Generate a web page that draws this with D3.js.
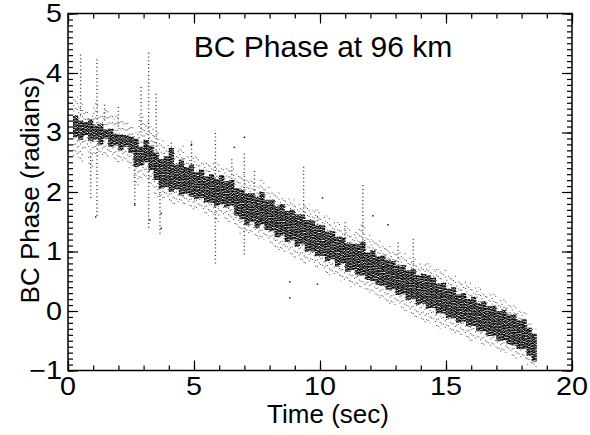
<!DOCTYPE html>
<html>
<head>
<meta charset="utf-8">
<script src="https://cdn.jsdelivr.net/npm/d3@7"></script>
<style>
  body { margin: 0; background: #fff; }
  text { font-family: "Liberation Sans", Arial, Helvetica, sans-serif; fill: #000; }
</style>
</head>
<body>
<svg id="chart" width="590" height="435"></svg>
<script>
// sample times (sec), read every 0.2 s along the trace
const times = [0.3,0.5,0.7,0.9,1.1,1.3,1.5,1.7,1.9,2.1,2.3,2.5,2.7,2.9,3.1,3.3,3.5,3.7,3.9,4.1,
  4.3,4.5,4.7,4.9,5.1,5.3,5.5,5.7,5.9,6.1,6.3,6.5,6.7,6.9,7.1,7.3,7.5,7.7,7.9,8.1,
  8.3,8.5,8.7,8.9,9.1,9.3,9.5,9.7,9.9,10.1,10.3,10.5,10.7,10.9,11.1,11.3,11.5,11.7,11.9,12.1,
  12.3,12.5,12.7,12.9,13.1,13.3,13.5,13.7,13.9,14.1,14.3,14.5,14.7,14.9,15.1,15.3,15.5,15.7,15.9,16.1,
  16.3,16.5,16.7,16.9,17.1,17.3,17.5,17.7,17.9,18.1,18.3,18.5];

// dense core of the phase band (radians)
const coreLo = [2.92,2.88,2.95,2.86,2.88,2.80,2.90,2.76,2.78,2.70,2.76,2.66,
  2.42,2.44,2.50,2.36,2.20,2.06,2.08,2.00,2.04,1.94,
  1.97,1.92,1.88,1.90,1.82,1.82,1.76,1.80,1.74,1.77,
  1.60,1.54,1.44,1.50,1.40,1.45,1.36,1.34,1.24,1.27,
  1.16,1.19,1.08,1.12,1.00,1.00,0.92,0.93,0.83,0.87,
  0.75,0.80,0.66,0.69,0.60,0.60,0.52,0.50,0.44,0.42,
  0.36,0.36,0.27,0.28,0.18,0.20,0.11,0.12,0.04,0.05,
  -0.04,-0.04,-0.12,-0.12,-0.20,-0.18,-0.26,-0.25,-0.34,-0.34,
  -0.42,-0.42,-0.50,-0.50,-0.56,-0.58,-0.64,-0.64,-0.75,-0.85];
const coreHi = [3.28,3.20,3.18,3.22,3.12,3.14,3.05,3.06,2.98,2.97,2.96,2.94,
  2.90,2.76,2.88,2.78,2.66,2.55,2.60,2.74,2.46,2.54,
  2.42,2.46,2.33,2.38,2.26,2.30,2.22,2.28,2.18,2.20,
  2.06,2.04,1.98,1.98,1.92,2.00,1.86,1.87,1.76,1.80,
  1.68,1.70,1.62,1.62,1.53,1.52,1.44,1.44,1.33,1.34,
  1.24,1.24,1.14,1.13,1.12,1.16,0.98,1.02,0.92,0.93,
  0.86,0.84,0.76,0.77,0.68,0.70,0.60,0.62,0.60,0.56,
  0.46,0.47,0.38,0.40,0.28,0.30,0.20,0.24,0.13,0.16,
  0.08,0.09,0.00,0.02,-0.06,-0.06,-0.16,-0.14,-0.28,-0.38];

// sparse scatter around the core
const haloLo = [2.6,2.5,2.7,2.4,2.6,2.6,2.6,2.6,2.5,2.5,2.5,2.4,2.1,2.2,2.2,2.1,1.9,1.9,1.9,1.8,
  1.8,1.8,1.8,1.7,1.7,1.7,1.6,1.6,1.5,1.6,1.5,1.5,1.4,1.3,1.3,1.3,1.2,1.2,1.2,1.1,
  1.0,1.0,1.0,0.9,0.9,0.8,0.8,0.8,0.7,0.7,0.6,0.6,0.6,0.5,0.5,0.4,0.4,0.4,0.3,0.3,
  0.2,0.2,0.1,0.1,0.1,0.0,0.0,-0.1,-0.1,-0.2,-0.2,-0.2,-0.3,-0.3,-0.3,-0.4,-0.4,-0.4,-0.5,-0.5,
  -0.5,-0.6,-0.6,-0.6,-0.7,-0.7,-0.7,-0.8,-0.8,-0.8,-0.9,-0.95];
const haloHi = [3.6,3.5,3.4,3.3,3.5,3.3,3.4,3.3,3.3,3.2,3.2,3.1,3.0,3.3,3.2,3.1,3.0,2.9,2.8,2.7,
  2.7,2.8,2.6,2.6,2.6,2.5,2.5,2.5,2.5,2.4,2.4,2.4,2.3,2.3,2.2,2.2,2.1,2.2,2.1,2.0,
  2.0,1.9,1.9,1.9,1.8,1.8,1.8,1.7,1.7,1.6,1.6,1.5,1.5,1.4,1.4,1.3,1.4,1.5,1.3,1.2,
  1.2,1.1,1.1,1.0,1.0,1.0,0.9,0.9,0.8,0.8,0.8,0.7,0.7,0.7,0.6,0.6,0.5,0.5,0.5,0.4,
  0.4,0.3,0.3,0.3,0.2,0.2,0.1,0.1,0.0,0.0,-0.2,-0.3];

// isolated vertical streaks: [time, low, high]
const spikes = [[0.5,3.3,4.35],[0.9,1.9,2.7],[1.15,1.6,4.25],[1.45,3.2,3.5],[2.0,3.1,3.45],
  [2.65,1.8,2.6],[2.9,3.0,3.8],[3.2,1.4,4.38],[3.5,2.7,3.65],[3.65,1.3,2.1],[4.1,2.5,2.85],
  [4.9,2.4,2.85],[5.85,0.8,3.04],[6.5,2.1,2.55],[7.0,0.95,2.65],[7.4,1.9,2.4],[9.35,1.6,2.45],
  [9.9,1.2,1.6],[11.0,1.1,1.5],[11.7,1.1,2.12],[13.1,0.7,1.15],[13.7,0.7,1.25]];

// single stray points: [time, phase]
const outliers = [[1.1,1.58],[2.65,1.78],[3.25,1.53],[3.7,1.64],[3.7,1.39],[4.9,2.8],
  [6.6,2.75],[7.0,2.92],[8.8,0.49],[8.8,0.22],[10.1,1.9],[12.1,1.6],[12.7,1.45],[9.9,0.45]];

const xTicks = [0, 5, 10, 15, 20];
const yTicks = [-1, 0, 1, 2, 3, 4, 5];

const plotLeft = 68, plotRight = 572, plotTop = 13.5, plotBottom = 370.5;

const svg = d3.select('#chart');

const x = d3.scaleLinear().domain([0, 20]).range([plotLeft, plotRight]);
const y = d3.scaleLinear().domain([-1, 5]).range([plotBottom, plotTop]);

svg.append('defs').append('clipPath').attr('id', 'plot')
  .append('rect').attr('x', plotLeft).attr('y', plotTop)
  .attr('width', plotRight - plotLeft).attr('height', plotBottom - plotTop);

const marks = svg.append('g').attr('clip-path', 'url(#plot)');

// each 0.2 s column is drawn as a few thin dotted strands so it looks like scattered samples
const haloStrands = [
  { dx: -1.8, dash: '1 4.6', off: 0.0 },
  { dx: 0.0, dash: '1 6.1', off: 2.3 },
  { dx: 1.8, dash: '1 5.3', off: 4.1 }
];
const coreStrands = [
  { dx: -1.9, dash: '2.1 0.7', off: 0.4 },
  { dx: -0.6, dash: '1.6 0.6', off: 1.1 },
  { dx: 0.6, dash: '2.5 0.9', off: 0.2 },
  { dx: 1.9, dash: '1.8 0.8', off: 1.7 }
];

const drawColumns = (lo, hi, strands, color, width) => {
  marks.append('g')
    .selectAll('g')
    .data(times)
    .enter().append('g')
    .each(function (t, i) {
      d3.select(this).selectAll('line')
        .data(strands)
        .enter().append('line')
        .attr('x1', (s) => x(t) + s.dx).attr('x2', (s) => x(t) + s.dx)
        .attr('y1', y(lo[i])).attr('y2', y(hi[i]))
        .attr('stroke', color)
        .attr('stroke-width', width)
        .attr('stroke-dasharray', (s) => s.dash)
        .attr('stroke-dashoffset', (s) => s.off + (i * 1.37) % 3);
    });
};

drawColumns(haloLo, haloHi, haloStrands, '#555', 1.1);
drawColumns(coreLo, coreHi, coreStrands, '#000', 1.4);

// streaks
marks.append('g')
  .selectAll('line')
  .data(spikes)
  .enter().append('line')
  .attr('x1', (d) => x(d[0])).attr('x2', (d) => x(d[0]))
  .attr('y1', (d) => y(d[1])).attr('y2', (d) => y(d[2]))
  .attr('stroke', '#333')
  .attr('stroke-width', 1.4)
  .attr('stroke-dasharray', '1 2.7');

// stray points
marks.append('g')
  .selectAll('rect')
  .data(outliers)
  .enter().append('rect')
  .attr('x', (d) => x(d[0]) - 0.75).attr('y', (d) => y(d[1]) - 0.75)
  .attr('width', 1.5).attr('height', 1.5)
  .attr('fill', '#222');

// frame + ticks (all pointing inward)
const xMinor = d3.range(0, 21);
const yMinor = d3.range(-10, 51).map((d) => d / 10);

const addAxis = (axis, tx, ty) => {
  const g = svg.append('g')
    .attr('transform', `translate(${tx}, ${ty})`)
    .call(axis);
  g.selectAll('text').remove();
  g.select('.domain').remove();
  g.selectAll('line').attr('stroke', '#000').attr('stroke-width', 1.2);
};

addAxis(d3.axisBottom(x).tickValues(xMinor).tickSize(-5).tickFormat(''), 0, plotBottom);
addAxis(d3.axisBottom(x).tickValues(xTicks).tickSize(-10).tickFormat(''), 0, plotBottom);
addAxis(d3.axisTop(x).tickValues(xMinor).tickSize(-5).tickFormat(''), 0, plotTop);
addAxis(d3.axisTop(x).tickValues(xTicks).tickSize(-10).tickFormat(''), 0, plotTop);
addAxis(d3.axisLeft(y).tickValues(yMinor).tickSize(-5).tickFormat(''), plotLeft, 0);
addAxis(d3.axisLeft(y).tickValues(yTicks).tickSize(-10).tickFormat(''), plotLeft, 0);
addAxis(d3.axisRight(y).tickValues(yMinor).tickSize(-5).tickFormat(''), plotRight, 0);
addAxis(d3.axisRight(y).tickValues(yTicks).tickSize(-10).tickFormat(''), plotRight, 0);

svg.append('rect')
  .attr('x', plotLeft).attr('y', plotTop)
  .attr('width', plotRight - plotLeft).attr('height', plotBottom - plotTop)
  .attr('fill', 'none').attr('stroke', '#000').attr('stroke-width', 1.5);

// tick labels
const fmt = d3.format('d');

svg.append('g')
  .selectAll('text')
  .data(xTicks)
  .enter().append('text')
  .attr('transform', (d) => `translate(${x(d)}, 395) scale(1.15, 1)`)
  .attr('text-anchor', 'middle')
  .style('font-size', '25px')
  .text((d) => fmt(d));

svg.append('g')
  .selectAll('text')
  .data(yTicks)
  .enter().append('text')
  .attr('transform', (d) => `translate(62, ${y(d) + 8.5}) scale(1.15, 1)`)
  .attr('text-anchor', 'end')
  .style('font-size', '25px')
  .text((d) => fmt(d));

// titles
svg.append('text')
  .text('BC Phase at 96 km')
  .attr('x', 323).attr('y', 57)
  .attr('text-anchor', 'middle')
  .style('font-size', '30px');

svg.append('text')
  .text('Time (sec)')
  .attr('x', 328).attr('y', 423)
  .attr('text-anchor', 'middle')
  .style('font-size', '26px');

svg.append('text')
  .text('BC Phase (radians)')
  .attr('transform', `translate(39, ${(plotTop + plotBottom) / 2 - 2}) rotate(-90)`)
  .attr('text-anchor', 'middle')
  .style('font-size', '26px');
</script>
</body>
</html>
